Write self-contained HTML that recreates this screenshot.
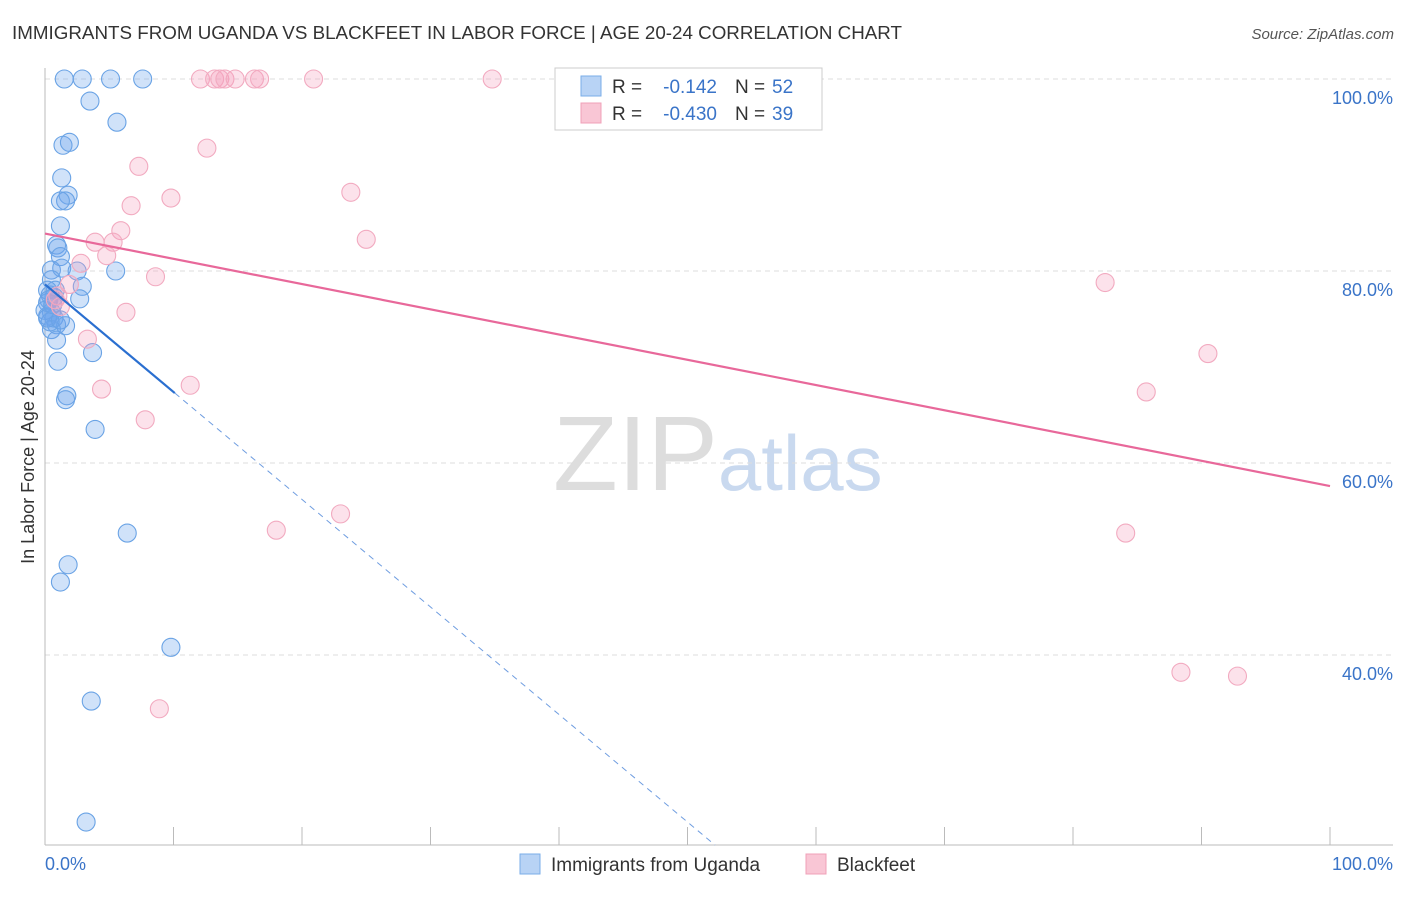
<!DOCTYPE html>
<html><head><meta charset="utf-8"><style>
body{margin:0;background:#fff;font-family:"Liberation Sans",sans-serif}
svg text{font-family:"Liberation Sans",sans-serif}
</style></head><body>
<svg id="chart" width="1406" height="892" xmlns="http://www.w3.org/2000/svg">
<text x="12" y="39" font-size="18" fill="#333" textLength="890" lengthAdjust="spacingAndGlyphs">IMMIGRANTS FROM UGANDA VS BLACKFEET IN LABOR FORCE | AGE 20-24 CORRELATION CHART</text>
<text x="1394" y="39" font-size="15" fill="#555" text-anchor="end" font-style="italic">Source: ZipAtlas.com</text>
<text x="553" y="490" font-size="106" fill="#ddd" font-family="Liberation Serif">ZIP<tspan fill="#c9d9ef" font-family="Liberation Sans" font-size="78">atlas</tspan></text>
<g id="grid"></g><g id="axes"></g><g id="pts"></g><g id="lines"></g>
<text transform="translate(34,457) rotate(-90)" font-size="18" fill="#333" text-anchor="middle">In Labor Force | Age 20-24</text>
<g>
<rect x="555" y="68" width="267" height="62" fill="#fff" stroke="#ccc"/>
<rect x="581" y="76" width="20" height="20" fill="#b8d3f5" stroke="#7aaee8"/>
<rect x="581" y="103" width="20" height="20" fill="#f9c6d5" stroke="#f0a0b8"/>
<text x="612" y="93" font-size="19" fill="#333">R =</text>
<text x="717" y="93" font-size="19" fill="#3a74c8" text-anchor="end">-0.142</text>
<text x="735" y="93" font-size="19" fill="#333">N =</text>
<text x="772" y="93" font-size="19" fill="#3a74c8">52</text>
<text x="612" y="120" font-size="19" fill="#333">R =</text>
<text x="717" y="120" font-size="19" fill="#3a74c8" text-anchor="end">-0.430</text>
<text x="735" y="120" font-size="19" fill="#333">N =</text>
<text x="772" y="120" font-size="19" fill="#3a74c8">39</text>
</g>
<g>
<rect x="520" y="854" width="20" height="20" fill="#b8d3f5" stroke="#7aaee8"/>
<text x="551" y="871" font-size="19" fill="#333">Immigrants from Uganda</text>
<rect x="806" y="854" width="20" height="20" fill="#f9c6d5" stroke="#f0a0b8"/>
<text x="837" y="871" font-size="19" fill="#333">Blackfeet</text>
</g>
</svg>
<script>
const blueX=[1.5,2.9,5.1,7.6,3.5,5.6,1.4,1.9,1.3,1.8,1.6,1.2,1.2,0.9,1.0,1.2,0.5,1.3,2.5,5.5,0.5,0.8,2.9,0.4,0.7,2.7,0.2,0.5,0.7,0.2,0.9,1.6,0.5,0.9,1.0,3.7,1.7,1.6,3.9,6.4,1.8,1.2,9.8,3.6,3.2,0.2,0.3,0,0.4,0.2,0.6,1.2];
const blueY=[100,100,100,100,97.7,95.5,93.1,93.4,89.7,87.9,87.3,87.3,84.7,82.7,82.4,81.5,80.1,80.3,80.0,80.0,79.1,78.0,78.4,77.5,77.3,77.1,76.7,75.7,75.1,75.3,74.4,74.3,73.9,72.8,70.6,71.5,67.0,66.6,63.5,52.7,49.4,47.6,40.8,35.2,22.6,78.0,77.0,75.9,74.7,75.1,76.5,74.9];
const pinkX=[12.1,13.2,13.6,14.0,14.8,16.3,16.7,20.9,34.8,12.6,7.3,23.8,9.8,6.7,5.9,3.9,5.3,25.0,4.8,2.8,8.6,1.9,1.0,1.2,6.3,3.3,4.4,11.3,7.8,18.0,23.0,8.9,82.5,90.5,85.7,84.1,88.4,92.8,0.8];
const pinkY=[100,100,100,100,100,100,100,100,100,92.8,90.9,88.2,87.6,86.8,84.2,83.0,83.0,83.3,81.6,80.8,79.4,78.6,77.4,76.3,75.7,72.9,67.7,68.1,64.5,53.0,54.7,34.4,78.8,71.4,67.4,52.7,38.2,37.8,77.0];
const pinkTrend=[83.9,57.6];
const blueTrend=[78.6,-1.12,10.1];
const yTicks=[100,80,60,40];
const NS="http://www.w3.org/2000/svg";
const X=v=>45+v*12.85, Y=v=>79+(100-v)*9.6;
function mk(p,t,a){const e=document.createElementNS(NS,t);for(const k in a)e.setAttribute(k,a[k]);document.getElementById(p).appendChild(e);return e;}
yTicks.forEach(t=>{const g=mk('grid','line',{x1:45,x2:1393,y1:Y(t),y2:Y(t),stroke:'#ddd','stroke-dasharray':'5,4'});


const l=mk('grid','text',{x:1393,y:Y(t)+25,'font-size':18,fill:'#3a74c8','text-anchor':'end'});l.textContent=t.toFixed(1)+'%';

});
let a=mk('axes','line',{x1:45,x2:45,y1:68,y2:845,stroke:'#bbb'});


a=mk('axes','line',{x1:45,x2:1393,y1:845,y2:845,stroke:'#bbb'});


for(let i=0;i<=10;i++){const t=mk('axes','line',{x1:X(i*10),x2:X(i*10),y1:827,y2:845,stroke:'#bbb'});

}
[[0,'start',45],[100,'end',1393]].forEach(([v,an,x])=>{const t=mk('axes','text',{x:x,y:870,'font-size':18,fill:'#3a74c8','text-anchor':an});t.textContent=v.toFixed(1)+'%';

});
blueX.forEach((v,i)=>{const c=mk('pts','circle',{cx:X(v),cy:Y(blueY[i]),r:9,fill:'rgba(110,165,235,0.32)',stroke:'#6aa3e5','stroke-width':1.1});

});
pinkX.forEach((v,i)=>{const c=mk('pts','circle',{cx:X(v),cy:Y(pinkY[i]),r:9,fill:'rgba(245,160,190,0.3)',stroke:'#f2aac0','stroke-width':1.1});

});
let l=mk('lines','line',{x1:X(0),y1:Y(pinkTrend[0]),x2:X(100),y2:Y(pinkTrend[1]),stroke:'#e8689a','stroke-width':2.2});


const bAt=x=>blueTrend[0]+blueTrend[1]*x;
l=mk('lines','line',{x1:X(0),y1:Y(bAt(0)),x2:X(blueTrend[2]),y2:Y(bAt(blueTrend[2])),stroke:'#2a6fd0','stroke-width':2.2});


const xEnd=(blueTrend[0]-20.2)/-blueTrend[1];
l=mk('lines','line',{x1:X(blueTrend[2]),y1:Y(bAt(blueTrend[2])),x2:X(xEnd),y2:Y(bAt(xEnd)),stroke:'#6f9de0','stroke-width':1,'stroke-dasharray':'6,5'});


</script>
</body></html>
